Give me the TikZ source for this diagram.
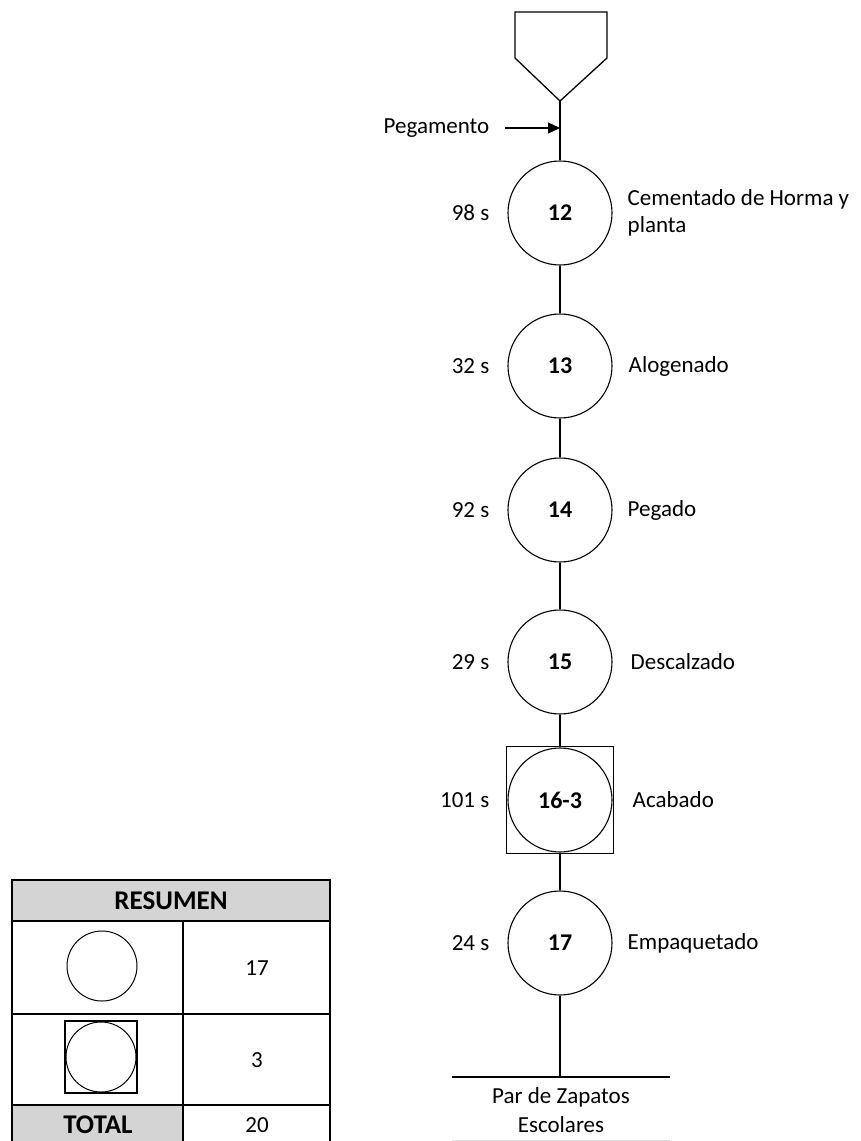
\documentclass[tikz,border=0pt]{standalone}
\usepackage{fontspec}
\setmainfont{Carlito}
\usetikzlibrary{arrows.meta}
\begin{document}
\begin{tikzpicture}[x=1pt,y=-1pt,line width=1.4pt,
  lbl/.style={font=\fontsize{23}{27}\selectfont, inner sep=0pt},
  op/.style={circle, draw, line width=1.1pt, minimum size=104pt, inner sep=0pt, font=\fontsize{24}{28}\selectfont\bfseries},
  opbox/.style={draw, line width=1.1pt, minimum size=107pt, inner sep=0pt},
  flow/.style={line width=1.5pt},
  cell/.style={draw, line width=1.4pt},
  tnum/.style={font=\fontsize{23}{27}\selectfont},
  thead/.style={font=\fontsize{27}{30}\selectfont\bfseries}]
\useasboundingbox (0,0) rectangle (860,1141);

% storage symbol at the start
\draw[line width=1.3pt] (515,12) -- (607,12) -- (607,58) -- (560,101) -- (515,58) -- cycle;
\coordinate (start) at (560,101);

% operations
\node[op] (o12) at (560,213) {12};
\node[op] (o13) at (560,366) {13};
\node[op] (o14) at (560,510) {14};
\node[op] (o15) at (560,662) {15};
\node[opbox] (b16) at (560,800) {};
\node[op] (o16) at (560,800) {16-3};
\node[op] (o17) at (560,943) {17};

% connectors
\coordinate (feed) at (560,128);
\coordinate (endpt) at (560,1077);
\draw[flow] (start) -- (o12.north);
\draw[flow] (o12) -- (o13);
\draw[flow] (o13) -- (o14);
\draw[flow] (o14) -- (o15);
\draw[flow] (o15) -- (b16);
\draw[flow] (b16) -- (o17);
\draw[flow] (o17) -- (endpt);
\draw[line width=1.5pt] (452,1077) -- (670,1077);
\draw[line width=0.8pt, black!12] (452,1140) -- (670,1140);

% input material
\node[lbl, anchor=east] (peg) at (490,128) {Pegamento};
\draw[line width=1.4pt, -{Triangle[length=12pt,width=11pt]}] (505,128) -- (feed);

% times
\node[lbl, anchor=east] at (490,213) {98 s};
\node[lbl, anchor=east] at (490,366) {32 s};
\node[lbl, anchor=east] at (490,510) {92 s};
\node[lbl, anchor=east] at (490,662) {29 s};
\node[lbl, anchor=east] at (490,800) {101 s};
\node[lbl, anchor=east] at (490,943) {24 s};

% descriptions
\node[lbl, anchor=west, align=left] at (627,213) {Cementado de Horma y\\planta};
\node[lbl, anchor=west] at (628,366) {Alogenado};
\node[lbl, anchor=west] at (627,510) {Pegado};
\node[lbl, anchor=west] at (630,662) {Descalzado};
\node[lbl, anchor=west] at (632,800) {Acabado};
\node[lbl, anchor=west] at (627,943) {Empaquetado};
\node[lbl, align=center] at (561,1110) {Par de Zapatos\\[2pt]Escolares};

% summary table
\fill[black!17] (12,880) rectangle (330,921);
\fill[black!17] (12,1105) rectangle (183,1150);
\draw[cell] (12,1150) -- (12,880) -- (330,880) -- (330,1150);
\draw[cell] (12,921) -- (330,921);
\draw[cell] (12,1014) -- (330,1014);
\draw[cell] (12,1105) -- (330,1105);
\draw[cell] (183,921) -- (183,1150);
\node[thead] (hdr) at (171,901) {RESUMEN};
\node[circle, draw, line width=1pt, minimum size=70pt, inner sep=0pt] (sym1) at (102,966) {};
\node[draw, line width=1.2pt, minimum size=72pt, inner sep=0pt] (sym2) at (101,1057) {};
\node[circle, draw, line width=1pt, minimum size=70pt, inner sep=0pt] (sym2c) at (101,1057) {};
\node[tnum] (n1) at (257,968) {17};
\node[tnum] (n2) at (257,1060) {3};
\node[thead] (tot) at (98,1125) {TOTAL};
\node[tnum] (n3) at (257,1125) {20};
\end{tikzpicture}
\end{document}
